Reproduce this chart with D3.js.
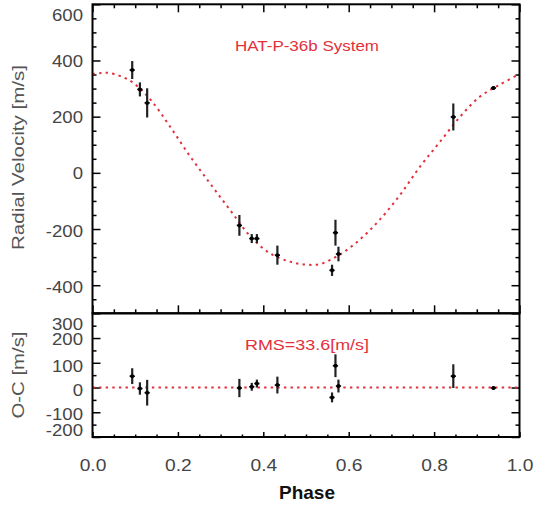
<!DOCTYPE html>
<html>
<head>
<meta charset="utf-8">
<script src="https://cdn.jsdelivr.net/npm/d3@7"></script>
<style>
  html, body { margin: 0; padding: 0; background: #fff; }
  svg { display: block; font-family: "Liberation Sans", Arial, Helvetica, sans-serif; }
</style>
</head>
<body>
<svg id="chart" width="534" height="508"></svg>
<script>
// ---------------- data ----------------
const phase  = [0.093, 0.111, 0.128, 0.344, 0.373, 0.385, 0.433, 0.561, 0.569, 0.576, 0.845, 0.939];
const rv     = [366, 297, 249, -187, -234, -234, -293, -347, -213, -289, 199, 302];
const rvErr  = [32, 25, 52, 37, 16, 16, 34, 20, 46, 26, 48, 7];
const resid  = [46, -4, -21, -2, 3, 16, 10, -40, 88, 6, 46, -2];

const modelPhase = [0, 0.02, 0.041, 0.088, 0.135, 0.181, 0.228, 0.275, 0.322, 0.369, 0.415, 0.462, 0.494,
                    0.532, 0.578, 0.625, 0.672, 0.720, 0.767, 0.814, 0.861, 0.907, 0.954, 1.0];
const modelRV    = [352, 355, 355, 328, 262, 166, 60, -37, -132, -225, -286, -316, -326,
                    -325, -292, -239, -168, -79, 22, 111, 200, 271, 314, 352];

const zeroPhase = [0, 1];
const zeroVal   = [0, 0];

const xMajor    = [0, 0.2, 0.4, 0.6, 0.8, 1.0];
const xLabels   = ["0.0", "0.2", "0.4", "0.6", "0.8", "1.0"];
const xMinor    = [0.05,0.1,0.15,0.25,0.3,0.35,0.45,0.5,0.55,0.65,0.7,0.75,0.85,0.9,0.95];
const yTopMajor = [-400, -200, 0, 200, 400, 600];
const yTopMinor = [-450,-350,-300,-250,-150,-100,-50,50,100,150,250,300,350,450,500,550];
const yBotMajor = [-200, -100, 0, 100, 200, 300];
const yBotMinor = [-150, -50, 50, 150, 250];

const titleText = "HAT-P-36b System";
const rmsText   = "RMS=33.6[m/s]";
const yTopTitle = "Radial Velocity [m/s]";
const yBotTitle = "O-C [m/s]";
const xTitle    = "Phase";

// ---------------- layout ----------------
const L = 92.5, R = 519.5, T1 = 4.3, B1 = 313.3, B2 = 437;
const RED = "#e2303b", LBL = "#454545";

const svg = d3.select("#chart");
const x    = d3.scaleLinear().domain([0, 1]).range([L, R]);
const yTop = d3.scaleLinear().domain([-500, 600]).range([B1, T1]);
const yBot = d3.scaleLinear().domain([-200, 300]).range([B2, B1]);

function stretch(sel, f) {
  sel.each(function () {
    const l = this.getComputedTextLength();
    d3.select(this).attr("textLength", l * f).attr("lengthAdjust", "spacingAndGlyphs");
  });
}
function styleAxis(g, fontSize) {
  g.select(".domain").remove();
  g.selectAll(".tick line").attr("stroke", "#000").attr("stroke-width", 1.5);
  g.selectAll("text").attr("fill", LBL).style("font-size", fontSize + "px")
    .style("font-family", "'Liberation Sans', Arial, sans-serif");
}
const plainInt = (d) => String(d);   // hyphen-minus, as in the reference

function drawAxes(y, major, minor, top, bottom, minLenX, majLenX, labelsY, labelsX, yOffsets) {
  // left
  const gl = svg.append("g").attr("transform", `translate(${L},0)`)
    .call(d3.axisLeft(y).tickValues(major).tickSizeInner(-8).tickSizeOuter(0).tickPadding(9.5)
      .tickFormat(labelsY ? plainInt : ""));
  styleAxis(gl, 16);
  if (labelsY) {
    gl.selectAll("text").attr("dy", (d) => (yOffsets[d] !== undefined ? yOffsets[d] : 1.8) + 5.4 + "px");
    stretch(gl.selectAll("text"), 1.16);
  }
  const glm = svg.append("g").attr("transform", `translate(${L},0)`)
    .call(d3.axisLeft(y).tickValues(minor).tickSizeInner(-4).tickSizeOuter(0).tickFormat(""));
  styleAxis(glm, 16);
  // right
  const gr = svg.append("g").attr("transform", `translate(${R},0)`)
    .call(d3.axisRight(y).tickValues(major).tickSizeInner(-8).tickSizeOuter(0).tickFormat(""));
  styleAxis(gr, 16);
  const grm = svg.append("g").attr("transform", `translate(${R},0)`)
    .call(d3.axisRight(y).tickValues(minor).tickSizeInner(-4).tickSizeOuter(0).tickFormat(""));
  styleAxis(grm, 16);
  // top (ticks downward)
  if (top !== null) {
    const gt = svg.append("g").attr("transform", `translate(0,${top})`)
      .call(d3.axisTop(x).tickValues(xMajor).tickSizeInner(-majLenX).tickSizeOuter(0).tickFormat(""));
    styleAxis(gt, 16);
    const gtm = svg.append("g").attr("transform", `translate(0,${top})`)
      .call(d3.axisTop(x).tickValues(xMinor).tickSizeInner(-minLenX).tickSizeOuter(0).tickFormat(""));
    styleAxis(gtm, 16);
  }
  // bottom (ticks upward)
  const gb = svg.append("g").attr("transform", `translate(0,${bottom})`)
    .call(d3.axisBottom(x).tickValues(xMajor).tickSizeInner(-majLenX).tickSizeOuter(0).tickPadding(22.5)
      .tickFormat(labelsX ? (d, i) => xLabels[i] : ""));
  styleAxis(gb, 16);
  if (labelsX) stretch(gb.selectAll("text"), 1.2);
  const gbm = svg.append("g").attr("transform", `translate(0,${bottom})`)
    .call(d3.axisBottom(x).tickValues(xMinor).tickSizeInner(-minLenX).tickSizeOuter(0).tickFormat(""));
  styleAxis(gbm, 16);
}

// ---------------- top panel ----------------
drawAxes(yTop, yTopMajor, yTopMinor, T1, B1, 4, 8, true, false, { 600: 10.7, 400: 0.8, 200: 0.5, 0: 0.5 });

const line = d3.line().curve(d3.curveCatmullRom.alpha(0.5));
svg.append("path")
  .attr("d", line(modelPhase.map((p, i) => [x(p), yTop(modelRV[i])])))
  .attr("fill", "none").attr("stroke", RED).attr("stroke-width", 2)
  .attr("stroke-dasharray", "2.4,4.2");

function drawPoints(y, vals) {
  const g = svg.append("g");
  phase.forEach((p, i) => {
    g.append("line").attr("x1", x(p)).attr("x2", x(p))
      .attr("y1", y(vals[i] - rvErr[i])).attr("y2", y(vals[i] + rvErr[i]))
      .attr("stroke", "#222").attr("stroke-width", 2.2);
    g.append("line").attr("x1", x(p) - 2.6).attr("x2", x(p) + 2.6)
      .attr("y1", y(vals[i])).attr("y2", y(vals[i]))
      .attr("stroke", "#000").attr("stroke-width", 1.6);
    g.append("circle").attr("cx", x(p)).attr("cy", y(vals[i])).attr("r", 2).attr("fill", "#000");
  });
}
drawPoints(yTop, rv);

// ---------------- bottom panel ----------------
drawAxes(yBot, yBotMajor, yBotMinor, null, B2, 2.5, 5, true, true, { 300: 10.5, 200: 1.5, 100: 3.7, 0: 2.6, "-100": 2.2, "-200": -7 });

svg.append("path")
  .attr("d", d3.line()(zeroPhase.map((p, i) => [x(p), yBot(zeroVal[i])])))
  .attr("fill", "none").attr("stroke", RED).attr("stroke-width", 2)
  .attr("stroke-dasharray", "2.4,4.2");
drawPoints(yBot, resid);

// frames
svg.append("rect").attr("x", L).attr("y", T1).attr("width", R - L).attr("height", B1 - T1)
  .attr("fill", "none").attr("stroke", "#000").attr("stroke-width", 2);
svg.append("rect").attr("x", L).attr("y", B1).attr("width", R - L).attr("height", B2 - B1)
  .attr("fill", "none").attr("stroke", "#000").attr("stroke-width", 2);

// ---------------- texts ----------------
svg.append("text").attr("x", 307).attr("y", 50.6).attr("text-anchor", "middle")
  .attr("fill", RED).style("font-size", "15px").text(titleText)
  .attr("textLength", 144).attr("lengthAdjust", "spacingAndGlyphs");
svg.append("text").attr("x", 307).attr("y", 349.5).attr("text-anchor", "middle")
  .attr("fill", RED).style("font-size", "15.5px").text(rmsText)
  .attr("textLength", 124).attr("lengthAdjust", "spacingAndGlyphs");

svg.append("text").attr("transform", "translate(24,157.5) rotate(-90)").attr("text-anchor", "middle")
  .attr("fill", "#555").style("font-size", "16px").text(yTopTitle)
  .attr("textLength", 185).attr("lengthAdjust", "spacingAndGlyphs");
svg.append("text").attr("transform", "translate(24,375) rotate(-90)").attr("text-anchor", "middle")
  .attr("fill", "#555").style("font-size", "16px").text(yBotTitle)
  .attr("textLength", 87).attr("lengthAdjust", "spacingAndGlyphs");

svg.append("text").attr("x", 307).attr("y", 499).attr("text-anchor", "middle")
  .attr("fill", "#111").style("font-size", "19px").style("font-weight", "bold").text(xTitle)
  .attr("textLength", 56).attr("lengthAdjust", "spacingAndGlyphs");
</script>
</body>
</html>
